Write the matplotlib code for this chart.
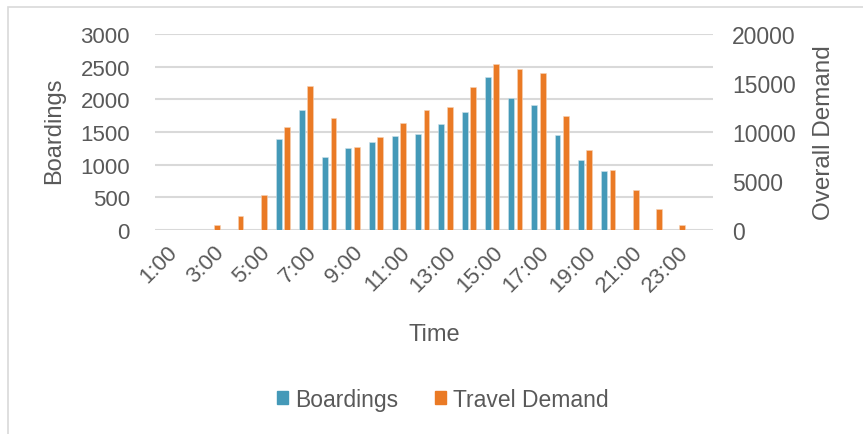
import matplotlib.pyplot as plt
import numpy as np
from matplotlib.patches import Rectangle

plt.rcParams["font.family"] = ["Liberation Sans", "DejaVu Sans"]

hours = [f"{h}:00" for h in range(1, 25)]
boardings = [0, 0, 0, 0, 0, 1390, 1830, 1115, 1255, 1345, 1440, 1470,
             1630, 1800, 2340, 2025, 1910, 1450, 1065, 905, 0, 0, 0, 0]
travel_demand = [30, 40, 500, 1400, 3540, 10520, 14740, 11430, 8440, 9460, 10930, 12220,
                 12520, 14560, 16970, 16430, 15990, 11600, 8140, 6100, 4130, 2190, 490, 0]

blue = "#4499B8"
orange = "#EA7A25"
grey = "#595959"

fig = plt.figure(figsize=(8.63, 4.35), dpi=100)
ax = fig.add_axes([0.1796, 0.469, 0.6464, 0.4505])
ax2 = ax.twinx()

x = np.arange(len(hours))
w = 0.25
off = 0.18
ax.bar(x - off, boardings, width=w, color=blue, edgecolor="#cfe3ea", linewidth=0.4, zorder=3)
ax2.bar(x + off, travel_demand, width=w, color=orange, edgecolor="#f6d2b6", linewidth=0.4, zorder=3)

ax.set_xlim(-0.5, len(hours) - 0.5)
ax.set_ylim(0, 3000)
ax.set_yticks(np.arange(0, 3001, 500))
ax2.set_ylim(0, 20000)
ax2.set_yticks(np.arange(0, 20001, 5000))

ax.grid(axis="y", color="#D9D9D9", linewidth=1.5, zorder=0)
ax.set_axisbelow(True)
for a in (ax, ax2):
    for s in a.spines.values():
        s.set_visible(False)

ax.set_xticks(x)
ax.set_xticklabels([h if i % 2 == 0 else "" for i, h in enumerate(hours)],
                   rotation=45, ha="right", rotation_mode="anchor")
ax.tick_params(axis="x", length=0, pad=8, labelsize=16, labelcolor=grey)
ax.tick_params(axis="y", length=0, pad=18, labelsize=16, labelcolor=grey)
ax2.tick_params(axis="y", length=0, pad=14, labelsize=16.5, labelcolor=grey)

ax.set_ylabel("Boardings", fontsize=17, color=grey)
ax.yaxis.set_label_coords(-0.161, 0.51)
ax2.set_ylabel("Overall Demand", fontsize=17.5, color=grey)
ax2.yaxis.set_label_coords(1.18, 0.5)
ax.set_xlabel("Time", fontsize=17, color=grey)
ax.xaxis.set_label_coords(0.5, -0.474)

handles = [Rectangle((0, 0), 1, 1, color=blue), Rectangle((0, 0), 1, 1, color=orange)]
fig.legend(handles, ["Boardings", "Travel Demand"], loc="center", bbox_to_anchor=(0.513, 0.08),
           ncol=2, frameon=False, fontsize=16.5, labelcolor=grey,
           handlelength=0.5, handleheight=0.5, handletextpad=0.3, columnspacing=1.6)

# light chart frame
fig.add_artist(Rectangle((8 / 863, -0.01), 1.1, 1 - 8 / 435 + 0.01, transform=fig.transFigure,
                         fill=False, edgecolor="#D9D9D9", linewidth=1.2))

fig.savefig("out.png", dpi=100)
